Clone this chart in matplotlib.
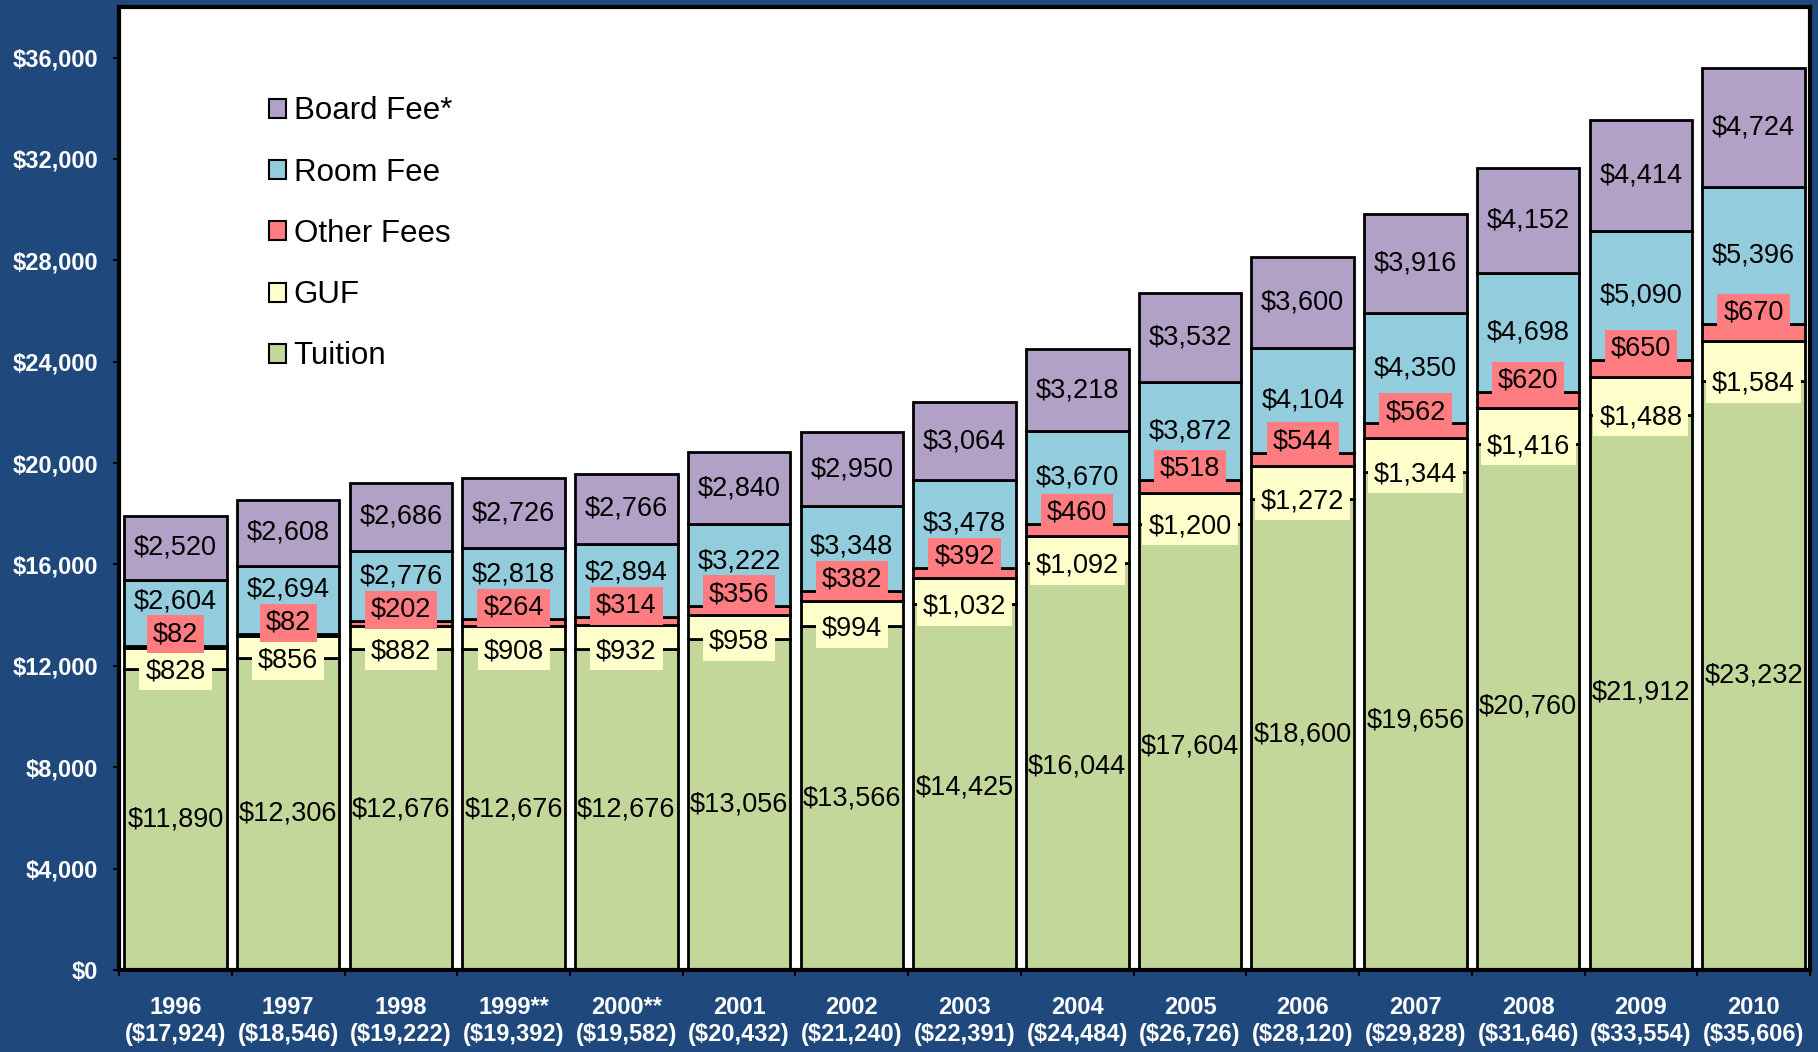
import numpy as np
import matplotlib.pyplot as plt
from matplotlib.patches import Patch
from matplotlib.ticker import FuncFormatter

plt.rcParams['font.family'] = ['Liberation Sans', 'DejaVu Sans']

# ---------------- DATA ----------------
YEARS = ["1996", "1997", "1998", "1999**", "2000**", "2001", "2002", "2003",
         "2004", "2005", "2006", "2007", "2008", "2009", "2010"]
TOTALS = [17924, 18546, 19222, 19392, 19582, 20432, 21240, 22391,
          24484, 26726, 28120, 29828, 31646, 33554, 35606]
TUITION = [11890, 12306, 12676, 12676, 12676, 13056, 13566, 14425,
           16044, 17604, 18600, 19656, 20760, 21912, 23232]
GUF = [828, 856, 882, 908, 932, 958, 994, 1032,
       1092, 1200, 1272, 1344, 1416, 1488, 1584]
OTHER_FEES = [82, 82, 202, 264, 314, 356, 382, 392,
              460, 518, 544, 562, 620, 650, 670]
ROOM_FEE = [2604, 2694, 2776, 2818, 2894, 3222, 3348, 3478,
            3670, 3872, 4104, 4350, 4698, 5090, 5396]
BOARD_FEE = [2520, 2608, 2686, 2726, 2766, 2840, 2950, 3064,
             3218, 3532, 3600, 3916, 4152, 4414, 4724]

# ---------------- STYLE ----------------
BG = "#1F497D"
C_TUITION = "#C4D79B"
C_GUF = "#FFFFCC"
C_OTHER = "#FF7C80"
C_ROOM = "#93CDDD"
C_BOARD = "#B2A1C7"
VALUE_FONTSIZE = 19.5
TICK_FONTSIZE = 17
LEGEND_FONTSIZE = 22.5


def money(v):
    return f"${v:,.0f}"


fig = plt.figure(figsize=(18.18, 10.52), dpi=100, facecolor=BG)
ax = fig.add_axes([0.0655, 0.078, 0.9301, 0.9155])
ax.set_facecolor("white")

x = np.arange(len(YEARS))
width = 0.91

series = [
    (TUITION, C_TUITION, "Tuition"),
    (GUF, C_GUF, "GUF"),
    (OTHER_FEES, C_OTHER, "Other Fees"),
    (ROOM_FEE, C_ROOM, "Room Fee"),
    (BOARD_FEE, C_BOARD, "Board Fee*"),
]

bottoms = np.zeros(len(YEARS))
for vals, color, name in series:
    vals = np.array(vals, dtype=float)
    ax.bar(x, vals, width, bottom=bottoms, color=color,
           edgecolor="black", linewidth=2, zorder=2)
    bottoms = bottoms + vals

# ---------------- VALUE LABELS ----------------
for i in range(len(YEARS)):
    g0 = TUITION[i]
    o0 = g0 + GUF[i]
    r0 = o0 + OTHER_FEES[i]
    b0 = r0 + ROOM_FEE[i]

    ax.text(x[i], TUITION[i] / 2, money(TUITION[i]), ha="center",
            va="center", fontsize=VALUE_FONTSIZE, zorder=4)

    ax.text(x[i], b0 + BOARD_FEE[i] / 2, money(BOARD_FEE[i]), ha="center",
            va="center", fontsize=VALUE_FONTSIZE, zorder=4)

    # other-fee label sits just above its thin band, room label moves up
    # when the band is too small to hold both
    other_y = r0 + 450
    room_y = max(r0 + ROOM_FEE[i] / 2, other_y + 1300)
    ax.text(x[i], room_y, money(ROOM_FEE[i]), ha="center",
            va="center", fontsize=VALUE_FONTSIZE, zorder=4)

    ax.text(x[i], g0 - 100, money(GUF[i]), ha="center", va="center",
            fontsize=VALUE_FONTSIZE, zorder=5,
            bbox=dict(boxstyle="square,pad=0.22", facecolor=C_GUF,
                      edgecolor="none"))

    ax.text(x[i], other_y, money(OTHER_FEES[i]), ha="center", va="center",
            fontsize=VALUE_FONTSIZE, zorder=6,
            bbox=dict(boxstyle="square,pad=0.22", facecolor=C_OTHER,
                      edgecolor="none"))

# ---------------- AXES ----------------
ax.set_xlim(-0.5, len(YEARS) - 0.5)
ax.set_ylim(0, 38000)
ax.set_yticks(np.arange(0, 36001, 4000))
ax.yaxis.set_major_formatter(FuncFormatter(lambda v, p: money(v)))
ax.tick_params(axis="y", direction="out", length=4, width=1.5,
               color="black", pad=11, labelsize=TICK_FONTSIZE,
               labelcolor="white")
for lab in ax.get_yticklabels():
    lab.set_fontweight("bold")

ax.set_xticks(x)
ax.set_xticklabels([f"{y}\n({money(t)})" for y, t in zip(YEARS, TOTALS)],
                   fontsize=TICK_FONTSIZE, fontweight="bold", color="white")
ax.set_xticks(np.arange(-0.5, len(YEARS)), minor=True)
ax.tick_params(axis="x", which="major", length=0, pad=19)
ax.tick_params(axis="x", which="minor", direction="out", length=4,
               width=1.5, color="black")

for s in ax.spines.values():
    s.set_color("black")
    s.set_linewidth(3)

# ---------------- LEGEND ----------------
handles = [Patch(facecolor=c, edgecolor="black", linewidth=1.5, label=n)
           for _, c, n in reversed(series)]
ax.legend(handles=handles, loc="upper left", bbox_to_anchor=(0.0885, 0.907),
          frameon=False, fontsize=LEGEND_FONTSIZE, handlelength=0.55,
          handleheight=0.55, handletextpad=0.25, labelspacing=1.0,
          borderpad=0, borderaxespad=0)

fig.savefig("out.png", dpi=100, facecolor=BG)
